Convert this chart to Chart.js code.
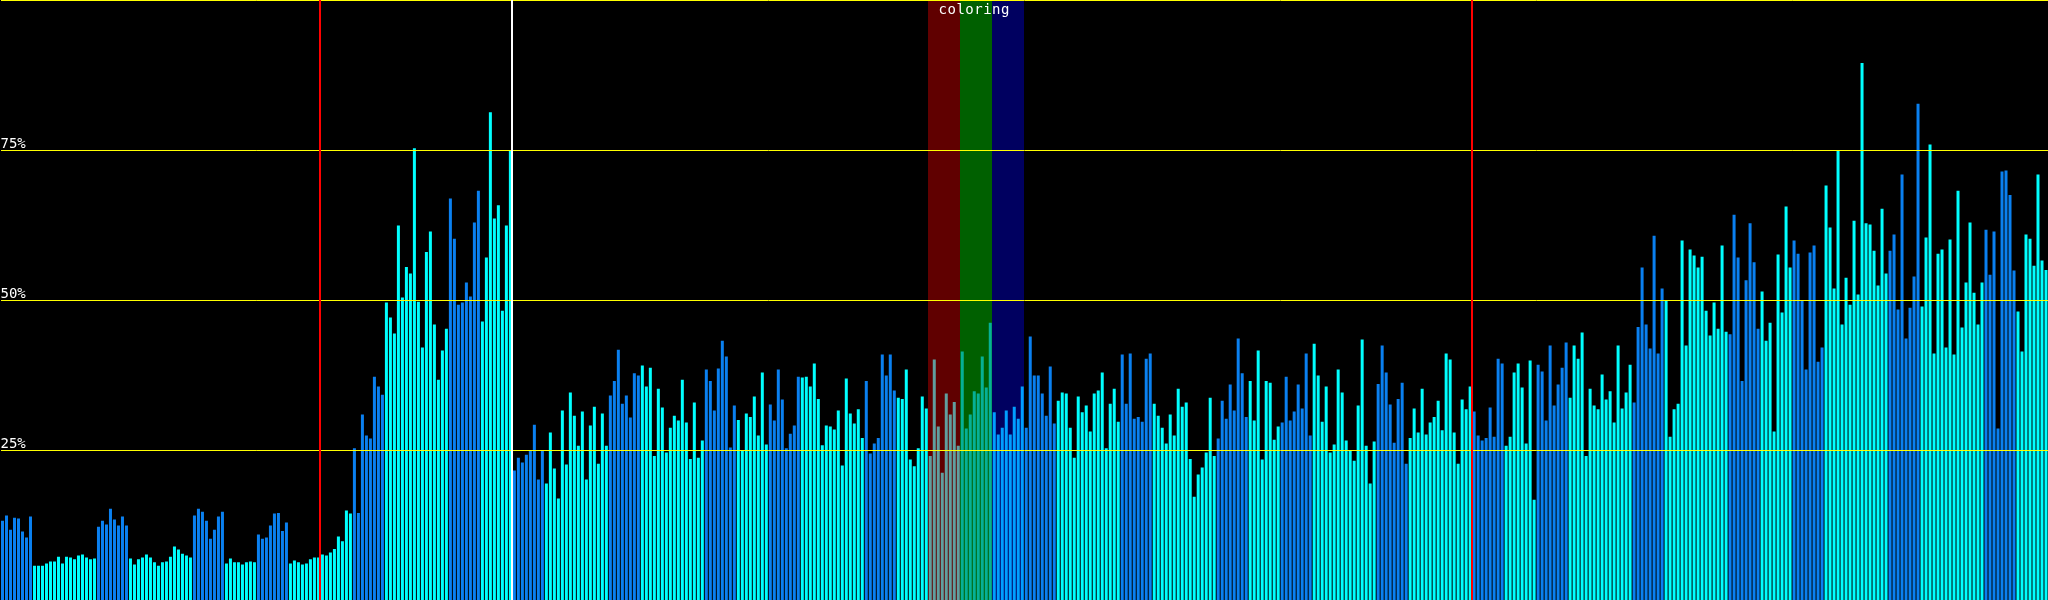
<!DOCTYPE html>
<html>
<head>
<meta charset="utf-8">
<style>
  html, body { margin: 0; padding: 0; background: #000; overflow: hidden; }
  canvas { display: block; }
</style>
</head>
<body>
<canvas id="chart" width="2048" height="600"></canvas>
<script src="https://cdn.jsdelivr.net/npm/chart.js@4/dist/chart.umd.min.js"></script>
<script>
// bar heights in %, 64 bars per block
const block0 = [13.2, 14.1, 11.7, 13.7, 13.6, 11.4, 10.4, 13.9, 5.7, 5.7, 5.7, 6.1, 6.4, 6.4, 7.2, 6.1,
  7.2, 7.1, 6.8, 7.4, 7.6, 7.1, 6.8, 6.9, 12.2, 13.2, 12.6, 15.2, 13.4, 12.4, 13.9, 12.4,
  6.9, 5.9, 6.8, 7.1, 7.6, 7.1, 6.3, 5.7, 6.3, 6.4, 7.2, 8.9, 8.4, 7.7, 7.4, 7.1,
  14.1, 15.2, 14.7, 13.2, 10.2, 11.7, 13.9, 14.7, 6.1, 6.9, 6.3, 6.3, 5.9, 6.3, 6.4, 6.3];
const block1 = [10.9, 10.2, 10.4, 12.4, 14.4, 14.5, 11.5, 12.9, 6.1, 6.6, 6.3, 5.9, 6.1, 6.8, 7.1, 7.1,
  7.6, 7.4, 7.9, 8.5, 10.6, 9.8, 14.9, 14.4, 25.3, 14.5, 30.9, 27.4, 26.9, 37.2, 35.6, 34.2,
  49.6, 47.1, 44.4, 62.4, 50.4, 55.5, 54.4, 75.3, 49.7, 42.1, 58.0, 61.4, 45.9, 36.7, 41.6, 45.2,
  66.9, 60.2, 49.2, 49.6, 52.9, 50.6, 62.9, 68.2, 46.4, 57.1, 81.3, 63.6, 65.8, 48.2, 62.4, 74.9];
const block2 = [21.6, 23.7, 22.9, 24.2, 24.9, 29.2, 20.1, 24.9, 19.4, 27.9, 21.9, 16.9, 31.6, 22.6, 34.6, 30.7,
  25.7, 31.4, 20.1, 29.1, 32.2, 22.7, 31.1, 25.7, 34.1, 36.5, 41.7, 32.7, 34.1, 30.4, 37.8, 37.4,
  39.1, 35.6, 38.7, 24.0, 35.2, 32.1, 24.6, 28.7, 30.7, 29.9, 36.7, 29.6, 23.5, 32.9, 23.7, 26.6,
  38.4, 36.5, 31.6, 38.6, 43.2, 40.6, 25.4, 32.4, 30.0, 24.9, 31.1, 30.5, 33.9, 27.4, 37.9, 25.9];
const block3 = [32.6, 29.9, 38.4, 33.4, 25.3, 27.7, 29.1, 37.2, 37.1, 37.2, 35.6, 39.4, 33.5, 25.8, 29.1, 28.9,
  28.4, 31.6, 22.4, 36.9, 31.1, 29.4, 31.8, 27.0, 36.5, 24.4, 26.1, 27.0, 40.9, 37.4, 40.9, 34.9,
  33.7, 33.5, 38.4, 23.4, 22.3, 25.3, 33.9, 31.9, 24.0, 40.1, 28.9, 21.2, 34.4, 30.9, 33.0, 25.7,
  41.4, 28.6, 30.9, 34.8, 34.4, 40.6, 35.4, 46.2, 31.3, 27.6, 28.7, 31.6, 27.6, 32.2, 30.2, 35.6];
const block4 = [28.7, 43.9, 37.4, 37.4, 34.4, 30.7, 38.9, 29.4, 33.2, 34.6, 34.4, 28.7, 23.7, 33.9, 31.3, 32.4,
  28.1, 34.4, 34.9, 37.9, 25.3, 32.7, 35.2, 29.7, 40.9, 32.7, 41.1, 30.2, 30.5, 29.7, 40.2, 41.1,
  32.7, 30.7, 28.7, 26.1, 30.9, 27.4, 35.2, 32.2, 32.9, 23.5, 17.2, 20.9, 22.1, 24.6, 33.7, 24.0,
  26.9, 33.2, 30.2, 35.9, 31.6, 43.6, 37.8, 30.5, 36.5, 29.9, 41.6, 23.4, 36.5, 36.2, 26.7, 28.9];
const block5 = [29.6, 37.2, 29.9, 31.4, 35.9, 31.9, 41.1, 27.4, 42.7, 37.4, 29.7, 35.6, 24.6, 25.9, 38.4, 34.6,
  26.6, 24.9, 23.2, 32.4, 43.4, 25.7, 19.4, 26.4, 36.0, 42.4, 37.9, 32.6, 26.2, 33.5, 36.2, 22.7,
  27.0, 31.9, 27.9, 35.2, 27.6, 29.6, 30.5, 33.2, 28.3, 41.1, 40.1, 27.9, 22.7, 33.4, 31.8, 35.6,
  31.4, 27.4, 26.6, 27.0, 32.1, 27.2, 40.2, 39.4, 25.7, 27.2, 37.9, 39.4, 35.4, 26.1, 39.9, 16.7];
const block6 = [39.2, 38.1, 29.9, 42.4, 32.4, 35.9, 38.7, 42.9, 33.7, 42.4, 40.2, 44.6, 24.0, 35.2, 32.4, 31.8,
  37.6, 33.4, 34.8, 29.6, 42.4, 31.9, 34.6, 39.2, 32.9, 45.5, 55.4, 45.9, 41.9, 60.7, 41.1, 51.9,
  49.9, 27.2, 31.8, 32.7, 59.9, 42.4, 58.4, 57.4, 55.4, 57.2, 48.2, 44.1, 49.6, 45.2, 59.1, 44.7,
  44.3, 64.2, 57.1, 36.5, 53.3, 62.8, 56.3, 45.2, 51.4, 43.2, 46.2, 28.1, 57.6, 47.9, 65.6, 55.4];
const block7 = [59.9, 57.7, 50.0, 38.4, 57.9, 59.1, 39.7, 42.1, 69.1, 62.1, 51.9, 74.9, 45.9, 53.7, 49.2, 63.2,
  50.9, 89.5, 62.8, 62.6, 58.2, 52.4, 65.2, 54.4, 58.2, 60.9, 48.4, 70.9, 43.6, 48.7, 53.9, 82.7,
  48.9, 60.4, 75.9, 41.1, 57.7, 58.4, 42.1, 60.1, 40.9, 68.2, 45.4, 52.9, 62.9, 51.2, 45.9, 52.9,
  61.7, 54.2, 61.4, 28.6, 71.4, 71.6, 67.5, 54.9, 48.1, 41.4, 60.9, 60.2, 55.7, 70.9, 56.6, 55.0];

// colour of each run of 8 bars inside a 64-bar block (same in every block)
const groupKinds = ['b', 'c', 'c', 'b', 'c', 'c', 'b', 'c'];
const yTicks = [25, 50, 75, 100];

// markers, as bar indices
const redMarkers = [80, 368];
const whiteMarkers = [128];
const bandStarts = [232, 240, 248];
const bandLength = 8;
const bandLabel = 'coloring';

const values = [].concat(block0, block1, block2, block3, block4, block5, block6, block7);
const labels = values.map((_, i) => i);

const kindColor = { b: '#0a80f0', c: '#00ffff' };
const bandColors = ['rgba(255,0,0,0.375)', 'rgba(0,255,0,0.375)', 'rgba(0,0,255,0.375)'];
const barColors = values.map((_, i) => kindColor[groupKinds[Math.floor(i / 8) % 8]]);

function edgeOf(scale, idx) {
  const half = (scale.getPixelForValue(1) - scale.getPixelForValue(0)) / 2;
  return scale.getPixelForValue(idx) - half;
}

const bandsPlugin = {
  id: 'bands',
  afterDatasetsDraw(chart) {
    const { ctx, chartArea, scales } = chart;
    ctx.save();
    bandStarts.forEach((start, i) => {
      const l = Math.round(edgeOf(scales.x, start));
      const r = Math.round(edgeOf(scales.x, start + bandLength));
      ctx.fillStyle = bandColors[i];
      ctx.fillRect(l, chartArea.top, r - l, chartArea.bottom - chartArea.top);
    });
    ctx.restore();
  }
};

const markersPlugin = {
  id: 'markers',
  afterDraw(chart) {
    const { ctx, chartArea, scales } = chart;
    const h = chartArea.bottom - chartArea.top;
    ctx.save();
    ctx.fillStyle = '#ff0000';
    redMarkers.forEach(idx => {
      const x = Math.floor(edgeOf(scales.x, idx));
      ctx.fillRect(x - 1, chartArea.top, 2, h);
    });
    ctx.fillStyle = '#ffffff';
    whiteMarkers.forEach(idx => {
      const x = Math.floor(edgeOf(scales.x, idx));
      ctx.fillRect(x - 1, chartArea.top, 2, h);
    });
    // band caption
    const mid = (edgeOf(scales.x, bandStarts[0]) + edgeOf(scales.x, bandStarts[bandStarts.length - 1] + bandLength)) / 2;
    ctx.fillStyle = '#ffffff';
    ctx.font = '14px "DejaVu Sans Mono"';
    ctx.letterSpacing = '0.5px';
    ctx.textAlign = 'center';
    ctx.textBaseline = 'alphabetic';
    ctx.fillText(bandLabel, mid - 2, 14);
    ctx.restore();
  }
};

new Chart(document.getElementById('chart').getContext('2d'), {
  type: 'bar',
  data: {
    labels,
    datasets: [{
      data: values,
      backgroundColor: barColors,
      borderWidth: 0,
      barPercentage: 0.75,
      categoryPercentage: 1,
      inflateAmount: 0
    }]
  },
  options: {
    responsive: false,
    animation: false,
    devicePixelRatio: 1,
    layout: { autoPadding: false, padding: { left: 0.5, right: 0, top: 0, bottom: 0 } },
    plugins: { legend: { display: false }, tooltip: { enabled: false } },
    scales: {
      x: { display: false },
      y: {
        min: 0,
        max: 100,
        border: { display: false },
        grid: { color: '#ffff00', lineWidth: 1, drawTicks: false, z: 1 },
        afterBuildTicks: scale => { scale.ticks = yTicks.map(v => ({ value: v })); },
        afterFit: scale => { scale.paddingTop = 0; scale.paddingBottom = 0; },
        ticks: {
          mirror: true,
          padding: 0,
          labelOffset: -6,
          color: '#ffffff',
          font: { family: 'DejaVu Sans Mono', size: 14 },
          callback: v => (v === 100 ? '' : v + '%')
        }
      }
    }
  },
  plugins: [bandsPlugin, markersPlugin]
});
</script>
</body>
</html>
